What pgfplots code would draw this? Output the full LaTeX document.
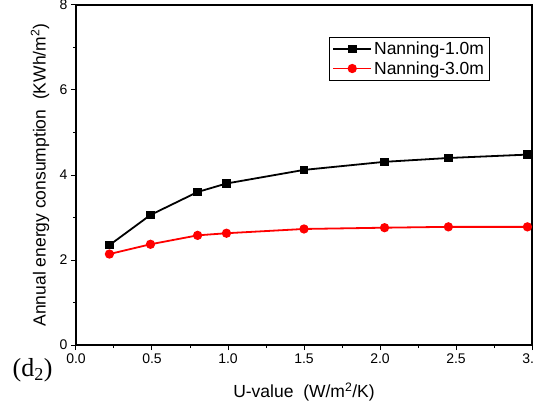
\documentclass[border=0pt]{standalone}
\usepackage{pgfplots}
\pgfplotsset{compat=1.18}
\usepackage{fontspec}
\setmainfont{Liberation Sans}
\newfontfamily\seriffont{Liberation Serif}
\begin{document}
\begin{tikzpicture}
\begin{axis}[
  scale only axis,
  width=456bp, height=340bp,
  xmin=0, xmax=3, ymin=0, ymax=8,
  axis line style={line width=1.1bp},
  xtick={0,0.5,...,3}, ytick={0,2,4,6,8},
  minor x tick num=1, minor y tick num=1,
  tick align=outside,
  xtick pos=bottom, ytick pos=left,
  major tick length=5bp, minor tick length=3bp,
  every tick/.style={black, line width=1bp},
  /pgf/number format/assume math mode=true,
  xticklabel style={/pgf/number format/.cd, fixed, fixed zerofill, precision=1},
  yticklabel style={/pgf/number format/.cd, fixed, precision=0},
  ticklabel style={font=\fontsize{14bp}{16bp}\selectfont},
  xlabel={U-value\ \ (W/m\textsuperscript{2}/K)},
  ylabel={Annual energy consumption\ \ (KWh/m\textsuperscript{2})},
  label style={font=\fontsize{17.5bp}{20bp}\selectfont},
  xlabel style={at={(axis description cs:0.5,-0.138)}, anchor=center},
  ylabel style={at={(axis description cs:-0.079,0.5)}, anchor=center},
  legend style={at={(axis cs:2.72,7.25)}, anchor=north east, draw=black, line width=0.8bp,
    font=\fontsize{17.5bp}{20bp}\selectfont, row sep=1.5bp, inner ysep=2.5bp, inner xsep=3bp,
    /tikz/every even column/.append style={column sep=2bp}},
  legend cell align=left,
  legend image code/.code={
    \draw[#1, mark repeat=2, mark phase=2] plot coordinates {(0cm,0cm) (0.67cm,0cm) (1.34cm,0cm)};
  },
  clip=false,
]
\addplot[black, line width=1.8bp, mark=square*, mark size=3.4bp, mark options={solid}]
  coordinates {(0.22,2.35) (0.49,3.06) (0.80,3.60) (0.99,3.80) (1.50,4.12) (2.03,4.31) (2.45,4.40) (2.97,4.48)};
\addlegendentry{Nanning-1.0m}
\addplot[red, line width=1.8bp, mark=*, mark size=3.7bp, mark options={solid}]
  coordinates {(0.22,2.14) (0.49,2.37) (0.80,2.58) (0.99,2.63) (1.50,2.73) (2.03,2.76) (2.45,2.78) (2.97,2.78)};
\addlegendentry{Nanning-3.0m}
\coordinate (SW) at (rel axis cs:0,0);
\coordinate (NE) at (rel axis cs:1,1);
\node[font=\seriffont\fontsize{26bp}{28bp}\selectfont] at (axis description cs:-0.095,-0.074) {(d\textsubscript{2})};
\end{axis}
\pgfresetboundingbox
\useasboundingbox ([shift={(-76bp,-72bp)}]SW) rectangle ([shift={(1bp,5bp)}]NE);
\end{tikzpicture}
\end{document}
